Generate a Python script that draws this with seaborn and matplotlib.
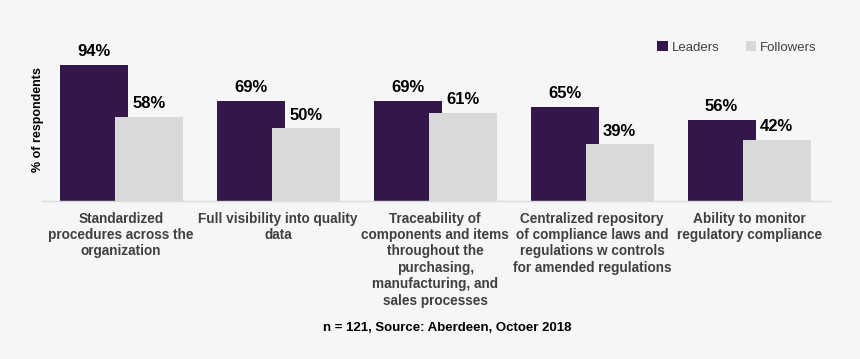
import pandas as pd
import matplotlib.pyplot as plt
import seaborn as sns
from matplotlib.patches import Patch

categories = [
    "Standardized\nprocedures across the\norganization",
    "Full visibility into quality\ndata",
    "Traceability of\ncomponents and items\nthroughout the\npurchasing,\nmanufacturing, and\nsales processes",
    "Centralized repository\nof compliance laws and\nregulations w controls\nfor amended regulations",
    "Ability to monitor\nregulatory compliance",
]
leaders = [94, 69, 69, 65, 56]
followers = [58, 50, 61, 39, 42]
groups = ["Leaders", "Followers"]
colors = {"Leaders": "#33174a", "Followers": "#d9d9d9"}

bg = "#f6f6f6"
txt_gray = "#404040"

df = pd.DataFrame({
    "category": categories * 2,
    "group": ["Leaders"] * len(categories) + ["Followers"] * len(categories),
    "value": leaders + followers,
})

sns.set_theme(style="white")
plt.rcParams["font.family"] = ["Liberation Sans", "DejaVu Sans"]

fig = plt.figure(figsize=(8.6, 3.59), dpi=100, facecolor=bg)
ax = fig.add_axes([0.0488, 0.4415, 0.9162, 0.482])
ax.set_facecolor(bg)

sns.barplot(data=df, x="category", y="value", hue="group", hue_order=groups,
            palette=colors, order=categories, ax=ax, legend=False,
            saturation=1, linewidth=0)

# overlapping bars like the original
bar_w = 0.433
offsets = [-0.175, 0.175]
for h, cont in enumerate(ax.containers):
    for i, bar in enumerate(cont):
        bar.set_width(bar_w)
        bar.set_x(i + offsets[h] - bar_w / 2)
    vals = leaders if h == 0 else followers
    ax.bar_label(cont, labels=[f"{v}%" for v in vals], padding=4,
                 fontsize=12, fontweight="bold", color="black")

ax.set_xlim(-0.505, 4.515)
ax.set_ylim(0, 120)
ax.set_yticks([])
ax.set_xlabel("")
ax.set_ylabel("% of respondents", fontsize=9, fontweight="bold", color="black")
ax.yaxis.set_label_coords(0.002, 0.47)

ax.tick_params(axis="x", length=0, pad=8)
for lab in ax.get_xticklabels():
    lab.set_fontsize(9.8)
    lab.set_fontweight("bold")
    lab.set_color(txt_gray)
    lab.set_linespacing(1.22)
    lab.set_verticalalignment("top")

for s in ["top", "right", "left"]:
    ax.spines[s].set_visible(False)
ax.spines["bottom"].set_color("#dcdcdc")
ax.spines["bottom"].set_linewidth(1)

handles = [Patch(facecolor=colors[g], edgecolor="none") for g in groups]
fig.legend(handles, groups, loc="center", bbox_to_anchor=(0.857, 0.868), ncol=2,
           frameon=False, fontsize=9.5, handlelength=0.8, handleheight=0.8,
           handletextpad=0.3, columnspacing=2.0, labelcolor=txt_gray)

fig.text(0.52, 0.087, "n = 121, Source: Aberdeen, Octoer 2018", ha="center",
         va="center", fontsize=9.5, fontweight="bold", color="black")

fig.savefig("out.png", dpi=100, facecolor=bg)
